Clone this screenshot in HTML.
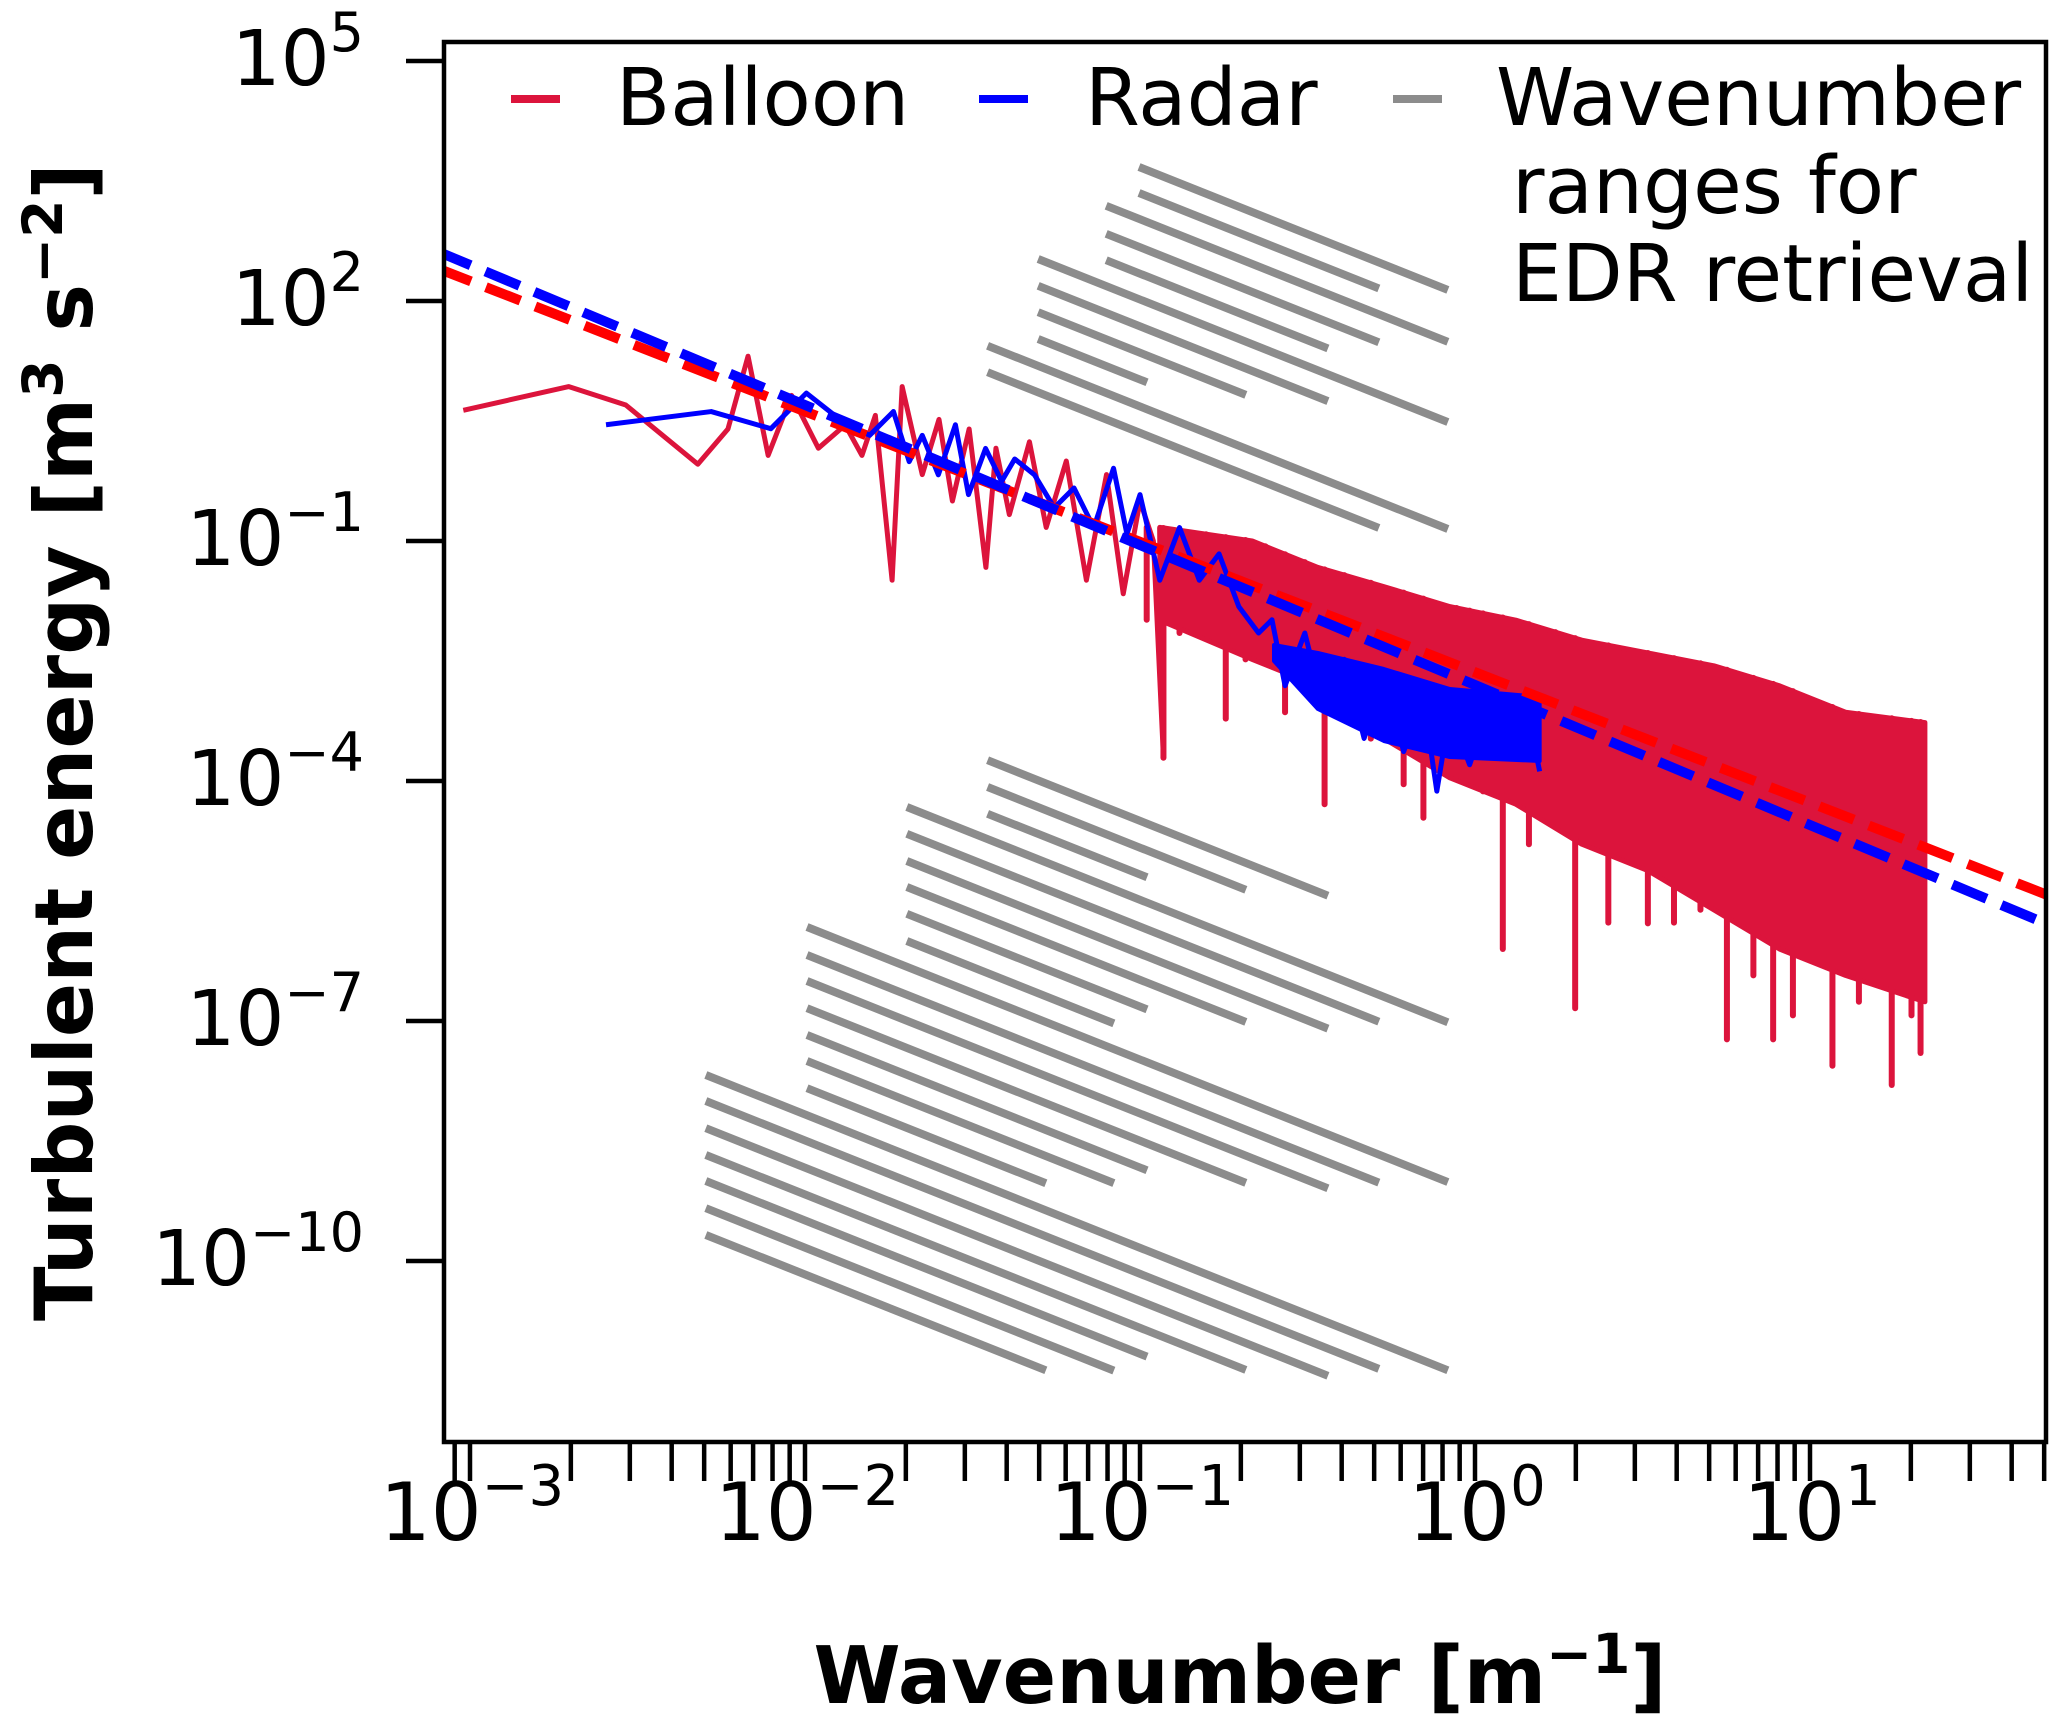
<!DOCTYPE html>
<html><head><meta charset="utf-8"><style>
html,body{margin:0;padding:0;background:#fff;}
svg{display:block;font-family:"DejaVu Sans","Liberation Sans",sans-serif;}
</style></head><body>
<svg id="chart" width="2067" height="1733" viewBox="0 0 2067 1733" xmlns="http://www.w3.org/2000/svg">
<defs><clipPath id="pc"><rect x="444" y="42" width="1602" height="1400"/></clipPath></defs>
<rect x="0" y="0" width="2067" height="1733" fill="#fff"/>
<g id="gray" clip-path="url(#pc)"></g>
<g id="series" clip-path="url(#pc)"></g>
<g id="axes"></g>
<g id="legend"></g>
<text x="1240" y="1703" text-anchor="middle" font-size="79" font-weight="bold">Wavenumber [m<tspan dy="-30" font-size="55">−1</tspan><tspan dy="30">]</tspan></text>
<text transform="translate(92,742) rotate(-90)" text-anchor="middle" font-size="80" font-weight="bold">Turbulent energy [m<tspan dy="-30" font-size="55">3</tspan><tspan dy="30"> s</tspan><tspan dy="-30" font-size="55">−2</tspan><tspan dy="30">]</tspan></text>
</svg>
<script>
// log10 wavenumber / log10 energy data
const balloonK = [-3.02,-2.705,-2.535,-2.32,-2.23,-2.17,-2.11,-2.04,-1.96,-1.88,-1.83,-1.79,-1.74,-1.71,-1.65,-1.60,-1.56,-1.51,-1.46,-1.43,-1.39,-1.33,-1.28,-1.22,-1.16,-1.10,-1.05,-1.0,-0.96,-0.93];
const balloonE = [0.634,0.93,0.70,-0.04,0.40,1.31,0.07,0.82,0.16,0.45,0.07,0.57,-1.49,0.93,-0.17,0.52,-0.50,0.40,-1.33,0.16,-0.67,0.24,-0.83,0.0,-1.49,-0.17,-1.66,-0.5,-1.0,-3.71];
const envK = [-0.941,-0.665,-0.469,-0.272,-0.075,0.122,0.319,0.516,0.713,0.909,1.106,1.343];
const envUpper = [-0.83,-1.0,-1.33,-1.57,-1.82,-1.99,-2.24,-2.40,-2.56,-2.81,-3.14,-3.27];
const envLower = [-1.99,-2.48,-2.81,-3.47,-3.96,-4.29,-4.79,-5.12,-5.61,-6.10,-6.43,-6.76];
const dipK = [-0.93,-0.744,-0.567,-0.39,-0.213,-0.016,0.083,0.299,0.516,0.752,0.89,1.067,1.244,1.33,
 -0.98,-0.882,-0.803,-0.685,-0.626,-0.508,-0.449,-0.311,-0.154,-0.055,0.024,0.161,0.24,0.398,0.594,0.673,0.831,0.949,1.146,1.303];
const dipE = [-3.71,-3.22,-3.14,-2.81,-4.04,-3.63,-6.10,-6.84,-5.78,-7.23,-7.23,-7.56,-7.80,-7.4,
 -1.985,-2.15,-1.82,-2.48,-1.985,-2.81,-4.29,-3.47,-4.46,-3.47,-4.13,-4.79,-4.46,-5.77,-5.77,-5.61,-6.43,-6.93,-6.76,-6.93];
const radarK = [-2.594,-2.280,-2.102,-1.996,-1.886,-1.807,-1.736,-1.689,-1.650,-1.602,-1.551,-1.512,-1.461,-1.413,-1.374,-1.315,-1.256,-1.197,-1.138,-1.079,-1.039,-1.0,-0.941,-0.882,-0.823,-0.764,-0.705,-0.646,-0.606,-0.567,-0.508,-0.449,-0.390,-0.331,-0.272,-0.213,-0.154,-0.114,-0.075,-0.016,0.043,0.102,0.161,0.193];
const radarE = [0.453,0.618,0.404,0.849,0.486,0.321,0.618,-0.008,0.321,-0.173,0.453,-0.420,0.157,-0.255,0.025,-0.173,-0.585,-0.338,-0.832,-0.091,-0.914,-0.420,-1.491,-0.832,-1.491,-1.161,-1.820,-2.150,-1.985,-2.809,-2.150,-3.138,-2.479,-3.468,-2.644,-3.633,-2.974,-4.127,-3.138,-3.797,-3.056,-3.715,-3.221,-3.880];
const radarEnvK = [-0.60,-0.469,-0.272,-0.075,0.193];
const radarEnvUpper = [-2.3,-2.4,-2.6,-2.85,-2.95];
const radarEnvLower = [-2.5,-3.1,-3.5,-3.7,-3.75];
const fitSlope = [-1.63,-1.75];
const fitIntercept = [-2.64,-2.80];
const rangeStartK = [-1.003,-1.003,-1.101,-1.101,-1.101,-1.304,-1.304,-1.304,-1.304,-1.455,-1.455,
 -1.455,-1.455,-1.455,-1.696,-1.696,-1.696,-1.696,-1.696,-1.696,
 -1.994,-1.994,-1.994,-1.994,-1.994,-1.994,-1.994,
 -2.296,-2.296,-2.296,-2.296,-2.296,-2.296,-2.296];
const rangeEndK = [-0.081,-0.287,-0.081,-0.287,-0.439,-0.081,-0.439,-0.684,-0.979,-0.081,-0.287,
 -0.439,-0.684,-0.979,-0.081,-0.287,-0.439,-0.684,-0.979,-1.078,
 -0.081,-0.287,-0.439,-0.684,-0.979,-1.078,-1.281,
 -0.081,-0.287,-0.439,-0.684,-0.979,-1.078,-1.281];
const rangeStartE = [3.675,3.35,3.19,2.84,2.51,2.525,2.19,1.86,1.525,1.44,1.11,
 -3.74,-4.075,-4.41,-4.325,-4.66,-5.0,-5.325,-5.66,-6.0,
 -5.825,-6.175,-6.5,-6.84,-7.175,-7.5,-7.84,
 -7.675,-8.0,-8.34,-8.675,-9.0,-9.34,-9.675];
const rangeSlope = -5/3;
const yTickExp = [5,2,-1,-4,-7,-10];
const xTickExp = [-3,-2,-1,0,1];

const NS='http://www.w3.org/2000/svg';
const X = lk => 470 + (lk+3)*335;
const Y = le => 61 + (5-le)*80;
function mk(tag, attrs, parent){const e=document.createElementNS(NS,tag);for(const k in attrs)e.setAttribute(k,attrs[k]);parent.appendChild(e);return e;}
function interp(ks,vs,k){let j=0;while(j<ks.length-2&&ks[j+1]<k)j++;const t=Math.max(0,Math.min(1,(k-ks[j])/(ks[j+1]-ks[j])));return vs[j]+(vs[j+1]-vs[j])*t;}
const gG=document.getElementById('gray'), gS=document.getElementById('series'), gA=document.getElementById('axes'), gL=document.getElementById('legend');

for(let i=0;i<rangeStartK.length;i++){
  const e0=rangeStartE[i], e1=e0+rangeSlope*(rangeEndK[i]-rangeStartK[i]);
  const l=mk('line',{x1:X(rangeStartK[i]),y1:Y(e0),x2:X(rangeEndK[i]),y2:Y(e1),stroke:'#8c8c8c','stroke-width':8},gG);
  
  
}
let d='';
envK.forEach((k,i)=>{d+=(i?'L':'M')+X(k)+','+Y(envUpper[i]);});
for(let i=envK.length-1;i>=0;i--)d+='L'+X(envK[i])+','+Y(envLower[i]);
d+='Z';
const env=mk('path',{d:d,fill:'#dc143c',stroke:'#dc143c','stroke-width':5,'stroke-linejoin':'round'},gS);


for(let i=0;i<dipK.length;i++){
  const up=interp(envK,envUpper,dipK[i]);
  const l=mk('line',{x1:X(dipK[i]),y1:Y(up),x2:X(dipK[i]),y2:Y(dipE[i]),stroke:'#dc143c','stroke-width':6,'stroke-linecap':'round'},gS);
  
  
}
const bl=mk('polyline',{points:balloonK.map((k,i)=>X(k)+','+Y(balloonE[i])).join(' ')+' '+X(envK[0])+','+Y(envUpper[0]),fill:'none',stroke:'#dc143c','stroke-width':5,'stroke-linejoin':'round'},gS);


let rd='';
radarEnvK.forEach((k,i)=>{rd+=(i?'L':'M')+X(k)+','+Y(radarEnvUpper[i]);});
for(let i=radarEnvK.length-1;i>=0;i--)rd+='L'+X(radarEnvK[i])+','+Y(radarEnvLower[i]);
rd+='Z';
const renv=mk('path',{d:rd,fill:'#0000ff',stroke:'#0000ff','stroke-width':4,'stroke-linejoin':'round'},gS);


const rl=mk('polyline',{points:radarK.map((k,i)=>X(k)+','+Y(radarE[i])).join(' '),fill:'none',stroke:'#0000ff','stroke-width':5,'stroke-linejoin':'round'},gS);


const fitCol=['#ff0000','#0000ff'];
[0,1].forEach(i=>{
  const k0=-3.1,k1=1.75;
  const f=mk('line',{x1:X(k0),y1:Y(fitIntercept[i]+fitSlope[i]*k0),x2:X(k1),y2:Y(fitIntercept[i]+fitSlope[i]*k1),stroke:fitCol[i],'stroke-width':10,'stroke-dasharray':'37,16'},gS);
  
  
});
const fr=mk('rect',{x:444,y:42,width:1602,height:1400,fill:'none',stroke:'#000','stroke-width':4.5},gA);


yTickExp.forEach(e=>{
  const y=Y(e);
  const t=mk('line',{x1:406,y1:y,x2:444,y2:y,stroke:'#000','stroke-width':4.5},gA);
  
  
  const tx=mk('text',{x:364,y:y+24,'text-anchor':'end','font-size':77},gA);
  
  
  tx.innerHTML='10<tspan dy="-34" font-size="54">'+String(e).replace('-','−')+'</tspan>';
});
for(let dd=-4;dd<=1;dd++)for(let m=1;m<=9;m++){
  const lk=dd+Math.log10(m);
  if(lk<-3.078||lk>1.702)continue;
  const x=X(lk);
  const t=mk('line',{x1:x,y1:1442,x2:x,y2:1481,stroke:'#000','stroke-width':4.5},gA);
  
  
}
xTickExp.forEach(e=>{
  const tx=mk('text',{x:X(e)+2,y:1540,'text-anchor':'middle','font-size':80},gA);
  
  
  tx.innerHTML='10<tspan dy="-35" font-size="56">'+String(e).replace('-','−')+'</tspan>';
});
const leg=[['#dc143c','Balloon',511,616],['#0000ff','Radar',979,1085],['#8c8c8c','Wavenumber',1393,1496]];
leg.forEach(r=>{
  const l=mk('line',{x1:r[2],y1:99,x2:r[2]+49,y2:99,stroke:r[0],'stroke-width':8},gL);
  
  
  const t=mk('text',{x:r[3],y:125,'font-size':79},gL);
  t.textContent=r[1];
  
  
});
[['ranges for',1512,213],['EDR retrieval',1512,301]].forEach(r=>{
  const t=mk('text',{x:r[1],y:r[2],'font-size':79},gL);
  t.textContent=r[0];
  
  
});
</script>
</body></html>
